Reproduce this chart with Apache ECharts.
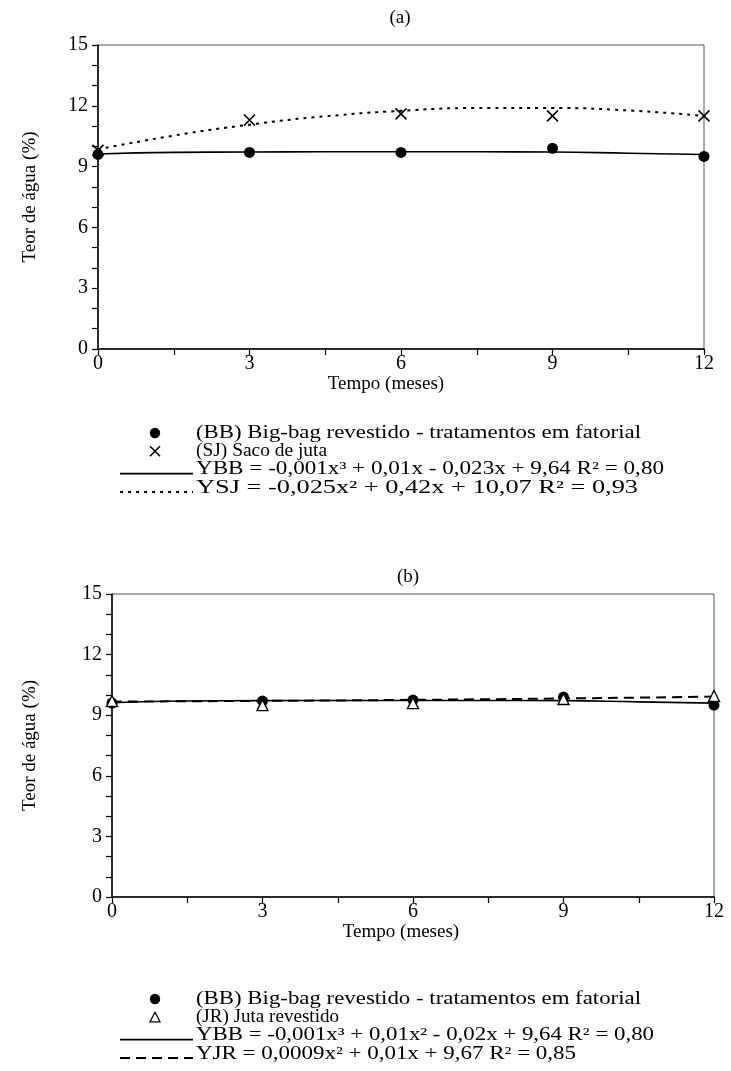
<!DOCTYPE html>
<html>
<head>
<meta charset="utf-8">
<script src="https://cdn.jsdelivr.net/npm/echarts@6/dist/echarts.min.js"></script>
<style>
  html, body { margin: 0; padding: 0; background: #fff; }
  #chart { width: 731px; height: 1071px; }
</style>
</head>
<body>
<div id="chart"></div>
<script>
// Sampling months (storage time)
const months = [0, 3, 6, 9, 12];
// Months at which the fitted curves are traced
const curveMonths = [0, 1.5, 3, 4.5, 6, 7.5, 9, 10.5, 12];

// Panel (a): water content (%)
const bbA = [9.6, 9.7, 9.7, 9.9, 9.5];          // big-bag, observed
const sjA = [9.8, 11.3, 11.6, 11.5, 11.5];      // jute sack, observed
const bbFitA = [9.62, 9.70, 9.72, 9.73, 9.73, 9.73, 9.72, 9.66, 9.60];
const sjFitA = [9.85, 10.53, 11.07, 11.48, 11.75, 11.89, 11.89, 11.77, 11.50];

// Panel (b): water content (%)
const bbB = [9.6, 9.7, 9.75, 9.9, 9.5];         // big-bag, observed
const jrB = [9.7, 9.5, 9.6, 9.8, 9.95];         // coated jute, observed
const bbFitB = [9.62, 9.70, 9.72, 9.73, 9.73, 9.73, 9.72, 9.66, 9.60];
const jrFitB = [9.67, 9.69, 9.71, 9.73, 9.76, 9.79, 9.83, 9.87, 9.92];

// Axis ticks
const xTicks = [0, 3, 6, 9, 12];
const yTicks = [0, 3, 6, 9, 12, 15];

// Legend texts
const nameBB = '(BB) Big-bag revestido - tratamentos em fatorial';
const nameSJ = '(SJ) Saco de juta';
const nameJR = '(JR) Juta revestido';
const eqBBa = 'YBB = -0,001x³ + 0,01x - 0,023x + 9,64 R² = 0,80';
const eqSJ = 'YSJ = -0,025x² + 0,42x + 10,07 R² = 0,93';
const eqBBb = 'YBB = -0,001x³ + 0,01x² - 0,02x + 9,64 R² = 0,80';
const eqJR = 'YJR = 0,0009x² + 0,01x + 9,67 R² = 0,85';

const FONT = '"Liberation Serif", "Times New Roman", serif';
const LEGEND_FONT = '18px ' + FONT;
const pair = (xs, ys) => xs.map((x, i) => [x, ys[i]]);
const crossPath = 'path://M0,0L10,10M10,0L0,10';

// Measures text so legend lines can be spread to their printed width
const measureCtx = document.createElement('canvas').getContext('2d');
function textWidth(str, font) {
  measureCtx.font = font;
  return measureCtx.measureText(str).width;
}

function xAxisFor(gridIndex, nameGap, namePad) {
  return {
    type: 'value', gridIndex, min: 0, max: 12, interval: 1.5,
    name: 'Tempo (meses)', nameLocation: 'middle', nameGap,
    nameTextStyle: { fontFamily: FONT, fontSize: 19, color: '#000', padding: namePad },
    axisLine: { show: true, lineStyle: { color: '#000', width: 1.5 } },
    axisTick: { show: true, inside: false, length: 6, lineStyle: { color: '#000', width: 1.2 } },
    axisLabel: {
      fontFamily: FONT, fontSize: 20, color: '#000', margin: 5,
      formatter: v => (xTicks.includes(v) ? String(v) : '')
    },
    splitLine: { show: false }
  };
}

function yAxisFor(gridIndex, nameGap) {
  return {
    type: 'value', gridIndex, min: 0, max: 15, interval: 1,
    name: 'Teor de água (%)', nameLocation: 'middle', nameGap, nameRotate: 90,
    nameTextStyle: { fontFamily: FONT, fontSize: 19, color: '#000' },
    axisLine: { show: true, lineStyle: { color: '#000', width: 1.5 } },
    axisTick: { show: true, inside: false, length: 6, lineStyle: { color: '#000', width: 1.2 } },
    axisLabel: {
      fontFamily: FONT, fontSize: 20, color: '#000', margin: 10,
      formatter: v => (yTicks.includes(v) ? String(v) : '')
    },
    splitLine: { show: false }
  };
}

// Legend block: symbol column at x 120..193, text from x 196
function legendBlock(top, rows) {
  const els = [];
  rows.forEach((r, i) => {
    const cy = top + i * 18.3;
    const natural = textWidth(r.text, LEGEND_FONT);
    els.push({
      type: 'text', x: 196, y: cy, scaleX: r.width / natural, scaleY: 1,
      style: { text: r.text, font: LEGEND_FONT, fill: '#000', verticalAlign: 'middle', align: 'left' }
    });
    if (r.kind === 'circle') {
      els.push({ type: 'circle', shape: { cx: 155, cy: cy, r: 5.2 }, style: { fill: '#000' } });
    } else if (r.kind === 'cross') {
      els.push({ type: 'polyline', shape: { points: [[150, cy - 5], [160, cy + 5]] },
        style: { stroke: '#000', lineWidth: 1.6 } });
      els.push({ type: 'polyline', shape: { points: [[160, cy - 5], [150, cy + 5]] },
        style: { stroke: '#000', lineWidth: 1.6 } });
    } else if (r.kind === 'triangle') {
      els.push({ type: 'polygon', shape: { points: [[155, cy - 5], [160, cy + 4.5], [150, cy + 4.5]] },
        style: { fill: '#fff', stroke: '#000', lineWidth: 1.3 } });
    } else {
      els.push({ type: 'line', shape: { x1: 120, y1: cy + 4, x2: 193, y2: cy + 4 },
        style: { stroke: '#000', lineWidth: r.kind === 'solid' ? 1.6 : 2, lineDash: r.dash || null } });
    }
  });
  return els;
}

const chart = echarts.init(document.getElementById('chart'), null, { renderer: 'canvas' });

chart.setOption({
  backgroundColor: '#fff',
  animation: false,
  graphic: [
    // panel titles
    { type: 'text', x: 400, y: 18,
      style: { text: '(a)', font: '19px ' + FONT, fill: '#000', align: 'center', verticalAlign: 'middle' } },
    { type: 'text', x: 408, y: 577,
      style: { text: '(b)', font: '19px ' + FONT, fill: '#000', align: 'center', verticalAlign: 'middle' } },
    ...legendBlock(433, [
      { kind: 'circle', text: nameBB, width: 445 },
      { kind: 'cross', text: nameSJ, width: 131 },
      { kind: 'solid', text: eqBBa, width: 468 },
      { kind: 'dotted', dash: [3, 5], text: eqSJ, width: 442 }
    ]),
    ...legendBlock(999, [
      { kind: 'circle', text: nameBB, width: 445 },
      { kind: 'triangle', text: nameJR, width: 143 },
      { kind: 'solid', text: eqBBb, width: 458 },
      { kind: 'dashed', dash: [10, 6], text: eqJR, width: 380 }
    ])
  ],
  grid: [
    { left: 98, top: 45, width: 606, height: 304, show: true,
      borderColor: '#555', borderWidth: 1, backgroundColor: 'transparent' },
    { left: 112, top: 594, width: 602, height: 303, show: true,
      borderColor: '#555', borderWidth: 1, backgroundColor: 'transparent' }
  ],
  xAxis: [xAxisFor(0, 19, [0, 30, 0, 0]), xAxisFor(1, 19, [0, 24, 0, 0])],
  yAxis: [yAxisFor(0, 58), yAxisFor(1, 72)],
  series: [
    // ---- panel (a) ----
    { name: eqBBa, type: 'line', xAxisIndex: 0, yAxisIndex: 0, smooth: true,
      showSymbol: false, symbol: 'none', data: pair(curveMonths, bbFitA),
      lineStyle: { color: '#000', width: 1.6 }, z: 2 },
    { name: eqSJ, type: 'line', xAxisIndex: 0, yAxisIndex: 0, smooth: true,
      showSymbol: false, symbol: 'none', data: pair(curveMonths, sjFitA),
      lineStyle: { color: '#000', width: 2, type: [3, 5] }, z: 2 },
    { name: nameBB, type: 'scatter', xAxisIndex: 0, yAxisIndex: 0,
      symbol: 'circle', symbolSize: 11, data: pair(months, bbA),
      itemStyle: { color: '#000', opacity: 1 }, z: 3 },
    { name: nameSJ, type: 'scatter', xAxisIndex: 0, yAxisIndex: 0,
      symbol: crossPath, symbolSize: 11, data: pair(months, sjA),
      itemStyle: { color: 'none', borderColor: '#000', borderWidth: 1.6, opacity: 1 }, z: 4 },

    // ---- panel (b) ----
    { name: eqBBb, type: 'line', xAxisIndex: 1, yAxisIndex: 1, smooth: true,
      showSymbol: false, symbol: 'none', data: pair(curveMonths, bbFitB),
      lineStyle: { color: '#000', width: 1.6 }, z: 2 },
    { name: eqJR, type: 'line', xAxisIndex: 1, yAxisIndex: 1, smooth: true,
      showSymbol: false, symbol: 'none', data: pair(curveMonths, jrFitB),
      lineStyle: { color: '#000', width: 2, type: [10, 6] }, z: 2 },
    { name: nameBB, type: 'scatter', xAxisIndex: 1, yAxisIndex: 1,
      symbol: 'circle', symbolSize: 11, data: pair(months, bbB),
      itemStyle: { color: '#000', opacity: 1 }, z: 3 },
    { name: nameJR, type: 'scatter', xAxisIndex: 1, yAxisIndex: 1,
      symbol: 'triangle', symbolSize: 11, data: pair(months, jrB),
      itemStyle: { color: '#fff', borderColor: '#000', borderWidth: 1.4, opacity: 1 }, z: 4 }
  ]
});
</script>
</body>
</html>
